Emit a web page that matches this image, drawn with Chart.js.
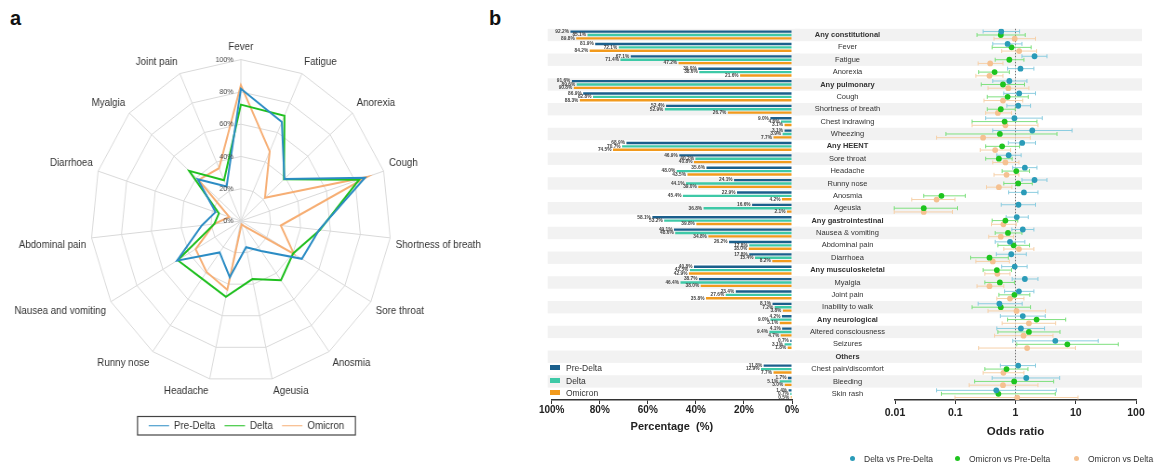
<!DOCTYPE html>
<html>
<head>
<meta charset="utf-8">
<script src="https://cdn.jsdelivr.net/npm/chart.js@4.4.1/dist/chart.umd.min.js"></script>
<style>
  body { margin: 0; width: 1156px; height: 464px; background: #fff; position: relative; overflow: hidden;
         font-family: Arial, "Liberation Sans", sans-serif; color: #333; }
  .panel { position: absolute; top: 7px; font-weight: bold; font-size: 20px; color: #111; }
  #radarWrap { position: absolute; left: 0; top: 0; width: 530px; height: 453px; transform: scaleX(0.93); transform-origin: 0 0; }
  #barWrap { position: absolute; left: 536px; top: 0; width: 264px; height: 464px; }
  #forestWrap { position: absolute; left: 795px; top: 0; width: 361px; height: 464px; }
  .barLeg { position: absolute; left: 550px; font-size: 8.5px; line-height: 12px; }
  .barLeg span { display: inline-block; width: 10px; height: 5px; margin-right: 6px; vertical-align: 1px; }
  .orLeg { position: absolute; top: 454px; font-size: 8.5px; line-height: 10px; white-space: nowrap; }
  .orLeg span { display: inline-block; width: 5px; height: 5px; border-radius: 50%; margin-right: 9px; vertical-align: 1px; }
</style>
</head>
<body>
<div class="panel" style="left:10px">a</div>
<div class="panel" style="left:489px">b</div>
<div id="radarWrap"><canvas id="radar"></canvas></div>
<div id="barWrap"><canvas id="bars"></canvas></div>
<div id="forestWrap"><canvas id="forest"></canvas></div>

<div class="barLeg" style="top:362px"><span style="background:#1b5f8c"></span>Pre-Delta</div>
<div class="barLeg" style="top:374.5px"><span style="background:#3ec9a7"></span>Delta</div>
<div class="barLeg" style="top:387px"><span style="background:#f29a1c"></span>Omicron</div>

<div class="orLeg" style="left:850px"><span style="background:#2a9bb8"></span>Delta vs Pre-Delta</div>
<div class="orLeg" style="left:955px"><span style="background:#1ec41e"></span>Omicron vs Pre-Delta</div>
<div class="orLeg" style="left:1074px"><span style="background:#f5c191"></span>Omicron vs Delta</div>

<script>
Chart.defaults.font.family = 'Arial, "Liberation Sans", sans-serif';
Chart.defaults.color = '#333';

// panel a: radar
const radarLabels = ['Fever', 'Fatigue', 'Anorexia', 'Cough', 'Shortness of breath', 'Sore throat', 'Anosmia',
  'Ageusia', 'Headache', 'Runny nose', 'Nausea and vomiting', 'Abdominal pain', 'Diarrhoea', 'Myalgia', 'Joint pain'];
const radarPre = [81.9, 67.1, 39.0, 86.9, 52.4, 46.9, 22.9, 16.6, 35.6, 24.1, 49.1, 26.2, 17.8, 38.7, 23.4];
const radarDelta = [72.1, 71.4, 38.6, 82.8, 52.9, 40.2, 45.4, 36.8, 48.0, 44.1, 48.6, 17.8, 15.4, 46.4, 27.6];
const radarOmicron = [84.2, 47.2, 21.6, 88.3, 26.7, 40.8, 4.2, 2.1, 43.5, 39.0, 34.8, 18.0, 8.2, 38.0, 35.8];
const radarTicks = [0, 20, 40, 60, 80, 100];

// panel b: rows shared by the bars and the odds ratios
const rows = ['Any constitutional', 'Fever', 'Fatigue', 'Anorexia', 'Any pulmonary', 'Cough', 'Shortness of breath',
  'Chest indrawing', 'Wheezing', 'Any HEENT', 'Sore throat', 'Headache', 'Runny nose', 'Anosmia', 'Ageusia',
  'Any gastrointestinal', 'Nausea & vomiting', 'Abdominal pain', 'Diarrhoea', 'Any musculoskeletal', 'Myalgia',
  'Joint pain', 'Inability to walk', 'Any neurological', 'Altered consciousness', 'Seizures', 'Others',
  'Chest pain/discomfort', 'Bleeding', 'Skin rash'];
const boldRows = ['Any constitutional', 'Any pulmonary', 'Any HEENT', 'Any gastrointestinal', 'Any musculoskeletal', 'Any neurological', 'Others'];

const preDelta = [92.2, 81.9, 67.1, 39.0, 91.6, 86.9, 52.4, 9.0, 3.1, 68.9, 46.9, 35.6, 24.1, 22.9, 16.6, 58.1, 49.1, 26.2, 17.8, 40.8, 38.7, 23.4, 8.1, 4.2, 4.1, 0.7, null, 11.8, 1.7, 1.4];
const delta = [85.1, 72.1, 71.4, 38.6, 89.6, 82.8, 52.9, 4.6, 3.9, 70.7, 40.2, 48.0, 44.1, 45.4, 36.8, 53.2, 48.6, 17.8, 15.4, 42.5, 46.4, 27.6, 7.2, 9.0, 9.4, 3.1, null, 12.9, 5.1, 0.7];
const omicron = [89.8, 84.2, 47.2, 21.6, 90.8, 88.3, 26.7, 3.1, 7.7, 74.5, 40.8, 43.5, 39.0, 4.2, 2.1, 39.8, 34.8, 18.0, 8.2, 42.9, 38.0, 35.8, 3.8, 5.1, 4.7, 1.8, null, 7.7, 3.0, 0.5];
const pctTicks = [0, 20, 40, 60, 80, 100];

// odds ratios with 95% CI
const dvpOR = [0.58, 0.74, 2.07, 1.21, 0.79, 1.15, 1.11, 0.96, 1.90, 1.29, 0.77, 1.43, 2.07, 1.38, 1.12, 1.05, 1.32, 0.81, 0.85, 0.97, 1.43, 1.14, 0.54, 1.32, 1.23, 4.58, null, 1.11, 1.51, 0.48];
const dvpLo = [0.29, 0.42, 1.28, 0.74, 0.42, 0.64, 0.72, 0.32, 0.42, 0.76, 0.49, 0.90, 1.28, 0.77, 0.58, 0.70, 0.87, 0.46, 0.48, 0.59, 0.88, 0.66, 0.24, 0.56, 0.49, 0.90, null, 0.56, 0.41, 0.049];
const dvpHi = [1.17, 1.28, 3.33, 2.02, 1.55, 2.15, 1.78, 2.78, 8.69, 2.15, 1.24, 2.27, 3.33, 2.36, 2.15, 1.63, 2.02, 1.43, 1.51, 1.56, 2.36, 2.02, 1.29, 3.12, 3.04, 23.6, null, 2.15, 5.41, 4.76];
const ovpOR = [0.57, 0.86, 0.79, 0.45, 0.62, 0.74, 0.57, 0.66, 0.55, 0.60, 0.53, 1.03, 1.11, 0.059, 0.030, 0.68, 0.75, 0.93, 0.37, 0.49, 0.55, 0.96, 0.57, 2.24, 1.67, 7.26, null, 0.71, 0.95, 0.52];
const ovpLo = [0.23, 0.41, 0.46, 0.245, 0.27, 0.34, 0.34, 0.19, 0.07, 0.32, 0.32, 0.60, 0.64, 0.030, 0.0097, 0.41, 0.46, 0.51, 0.18, 0.29, 0.31, 0.53, 0.19, 0.74, 0.51, 1.05, null, 0.31, 0.21, 0.059];
const ovpHi = [1.45, 1.82, 1.38, 0.79, 1.41, 1.63, 0.99, 2.27, 4.89, 1.17, 0.88, 1.71, 1.90, 0.147, 0.109, 1.09, 1.28, 1.71, 0.76, 0.86, 0.96, 1.73, 1.78, 6.81, 5.48, 50.8, null, 1.61, 4.30, 4.58];
const ovdOR = [0.97, 1.15, 0.38, 0.37, 0.76, 0.62, 0.51, 0.68, 0.29, 0.46, 0.68, 0.71, 0.53, 0.049, 0.030, 0.63, 0.57, 1.14, 0.42, 0.50, 0.37, 0.81, 1.04, 1.67, 1.36, 1.56, null, 0.63, 0.62, 1.07];
const ovdLo = [0.44, 0.59, 0.24, 0.22, 0.35, 0.30, 0.32, 0.19, 0.049, 0.26, 0.42, 0.44, 0.33, 0.019, 0.0097, 0.40, 0.36, 0.64, 0.22, 0.31, 0.23, 0.49, 0.35, 0.60, 0.45, 0.245, null, 0.29, 0.17, 0.099];
const ovdHi = [2.15, 2.24, 0.62, 0.62, 1.67, 1.32, 0.86, 2.36, 1.76, 0.83, 1.14, 1.14, 0.87, 0.099, 0.090, 1.03, 0.93, 2.02, 0.79, 0.81, 0.64, 1.38, 3.16, 4.64, 4.19, 9.87, null, 1.38, 2.36, 10.9];
const orTicks = [0.01, 0.1, 1, 10, 100];

// ---------- radar ----------
const radarTickLabels = {
  id: 'radarTickLabels',
  afterDraw(chart) {
    const r = chart.scales.r, ctx = chart.ctx;
    ctx.save();
    ctx.font = '7.5px Arial, "Liberation Sans", sans-serif';
    ctx.fillStyle = '#444';
    ctx.textAlign = 'right';
    ctx.textBaseline = 'middle';
    radarTicks.forEach(v => {
      ctx.fillText(v + '%', r.xCenter - 8, r.yCenter - r.getDistanceFromCenterForValue(v));
    });
    ctx.restore();
  }
};
const legendFrame = {
  id: 'legendFrame',
  afterDraw(chart) {
    const boxes = chart.legend.legendHitBoxes;
    if (!boxes.length) return;
    const l = Math.min(...boxes.map(b => b.left)), r = Math.max(...boxes.map(b => b.left + b.width));
    const t = Math.min(...boxes.map(b => b.top)), btm = Math.max(...boxes.map(b => b.top + b.height));
    const ctx = chart.ctx;
    ctx.save();
    ctx.strokeStyle = '#444';
    ctx.lineWidth = 1.2;
    ctx.strokeRect(l - 12, t - 4, r - l + 24, btm - t + 8);
    ctx.restore();
  }
};

new Chart(document.getElementById('radar'), {
  type: 'radar',
  data: {
    labels: radarLabels,
    datasets: [
      { label: 'Pre-Delta', data: radarPre, borderColor: '#2b8cc4' },
      { label: 'Delta', data: radarDelta, borderColor: '#1fbf1f' },
      { label: 'Omicron', data: radarOmicron, borderColor: '#f6ae74' }
    ]
  },
  options: {
    animation: false,
    responsive: true,
    maintainAspectRatio: false,
    elements: { line: { borderWidth: 2, fill: false, tension: 0 }, point: { radius: 0 } },
    layout: { padding: { top: 39, bottom: 12 } },
    plugins: {
      tooltip: { enabled: false },
      legend: {
        position: 'bottom',
        // empty title only adds room between the radar and the legend row
        title: { display: true, text: ' ', font: { size: 5 }, padding: { top: 2, bottom: 2.5 } },
        labels: { usePointStyle: true, pointStyle: 'line', pointStyleWidth: 22, font: { size: 10.5 }, color: '#333', padding: 10 }
      }
    },
    scales: {
      r: {
        min: 0, max: 100,
        ticks: { stepSize: 20, display: false },
        grid: { color: '#d9d9d9' },
        angleLines: { color: '#d9d9d9' },
        pointLabels: { font: { size: 10.5 }, color: '#333', padding: 6 }
      }
    }
  },
  plugins: [radarTickLabels, legendFrame]
});

// ---------- shared row shading ----------
function shadeRows(chart, x0, x1, yScale) {
  const ctx = chart.ctx, h = chart.chartArea.height / rows.length;
  ctx.save();
  ctx.fillStyle = '#f2f2f2';
  rows.forEach((r, i) => {
    if (i % 2) return;
    const yc = yScale.getPixelForValue(i);
    ctx.fillRect(x0, yc - h / 2, x1 - x0, h);
  });
  ctx.restore();
}

// ---------- bars ----------
const barBands = {
  id: 'barBands',
  beforeDraw(chart) { shadeRows(chart, chart.chartArea.left - 4, chart.width, chart.scales.y); }
};
const barLabels = {
  id: 'barLabels',
  afterDatasetsDraw(chart) {
    const ctx = chart.ctx;
    ctx.save();
    ctx.font = 'bold 4.8px Arial, "Liberation Sans", sans-serif';
    ctx.fillStyle = '#444';
    ctx.textAlign = 'right';
    ctx.textBaseline = 'middle';
    chart.data.datasets.forEach((ds, i) => {
      chart.getDatasetMeta(i).data.forEach((bar, j) => {
        const v = ds.data[j];
        if (v == null) return;
        ctx.fillText(v.toFixed(1) + '%', bar.x - 1.5, bar.y);
      });
    });
    ctx.restore();
  }
};

new Chart(document.getElementById('bars'), {
  type: 'bar',
  data: {
    labels: rows,
    datasets: [
      { label: 'Pre-Delta', data: preDelta, backgroundColor: '#1b5f8c' },
      { label: 'Delta', data: delta, backgroundColor: '#3ec9a7' },
      { label: 'Omicron', data: omicron, backgroundColor: '#f29a1c' }
    ]
  },
  options: {
    indexAxis: 'y',
    animation: false,
    responsive: true,
    maintainAspectRatio: false,
    datasets: { bar: { categoryPercentage: 0.82, barPercentage: 0.7 } },
    layout: { padding: { left: 15.7, right: 8, top: 28.8, bottom: 24 }, autoPadding: false },
    plugins: { legend: { display: false }, tooltip: { enabled: false } },
    scales: {
      y: { display: false },
      x: {
        reverse: true, min: 0, max: 100,
        afterBuildTicks: s => { s.ticks = pctTicks.map(v => ({ value: v })); },
        ticks: { callback: v => v + '%', font: { size: 10, weight: 'bold' }, color: '#222', padding: 0, maxRotation: 0 },
        grid: { drawOnChartArea: false, tickLength: 4, color: '#333' },
        border: { color: '#333', width: 1.5 },
        title: { display: true, text: 'Percentage  (%)', font: { size: 11, weight: 'bold' }, color: '#222', padding: { top: 0, bottom: 6 } },
        afterFit: s => { s.height = 40; }
      }
    }
  },
  plugins: [barBands, barLabels]
});

// ---------- odds ratios ----------
const orSeries = [
  { label: 'Delta vs Pre-Delta', or: dvpOR, lo: dvpLo, hi: dvpHi, color: '#2a9bb8', ci: '#8ccde0', off: -0.28 },
  { label: 'Omicron vs Pre-Delta', or: ovpOR, lo: ovpLo, hi: ovpHi, color: '#1ec41e', ci: '#7fe07f', off: 0 },
  { label: 'Omicron vs Delta', or: ovdOR, lo: ovdLo, hi: ovdHi, color: '#f5c191', ci: '#f6d1aa', off: 0.3 }
];

const forestBands = {
  id: 'forestBands',
  beforeDraw(chart) { shadeRows(chart, 0, chart.chartArea.right + 6, chart.scales.y); }
};
const errorBars = {
  id: 'errorBars',
  beforeDatasetsDraw(chart) {
    const ctx = chart.ctx, xs = chart.scales.x, a = chart.chartArea;
    ctx.save();
    // reference line at OR = 1
    const x1 = xs.getPixelForValue(1);
    ctx.strokeStyle = '#777';
    ctx.lineWidth = 1;
    ctx.setLineDash([1.5, 1.5]);
    ctx.beginPath();
    ctx.moveTo(x1, a.top);
    ctx.lineTo(x1, a.bottom);
    ctx.stroke();
    ctx.setLineDash([]);
    chart.data.datasets.forEach((ds, i) => {
      ctx.strokeStyle = ds.ciColor;
      ctx.lineWidth = 1;
      chart.getDatasetMeta(i).data.forEach((pt, k) => {
        const d = ds.data[k];
        const xl = xs.getPixelForValue(d.lo), xh = xs.getPixelForValue(d.hi), y = pt.y;
        ctx.beginPath();
        ctx.moveTo(xl, y); ctx.lineTo(xh, y);
        ctx.moveTo(xl, y - 2); ctx.lineTo(xl, y + 2);
        ctx.moveTo(xh, y - 2); ctx.lineTo(xh, y + 2);
        ctx.stroke();
      });
    });
    ctx.restore();
  }
};

new Chart(document.getElementById('forest'), {
  type: 'scatter',
  data: {
    datasets: orSeries.map(s => ({
      label: s.label,
      data: rows.map((r, i) => s.or[i] == null ? null : { x: s.or[i], y: i + s.off, lo: s.lo[i], hi: s.hi[i] }).filter(Boolean),
      backgroundColor: s.color,
      ciColor: s.ci,
      pointRadius: 2.9,
      borderWidth: 0
    }))
  },
  options: {
    animation: false,
    responsive: true,
    maintainAspectRatio: false,
    layout: { padding: { left: 0, right: 20, top: 28.8, bottom: 24 }, autoPadding: false },
    plugins: { legend: { display: false }, tooltip: { enabled: false } },
    scales: {
      x: {
        type: 'logarithmic', min: 0.01, max: 100,
        afterBuildTicks: s => { s.ticks = orTicks.map(v => ({ value: v })); },
        ticks: { callback: v => String(v), font: { size: 10.5, weight: 'bold' }, color: '#222', padding: 3, maxRotation: 0 },
        grid: { drawOnChartArea: false, tickLength: 4, color: '#333' },
        border: { color: '#333', width: 1.5 },
        title: { display: true, text: 'Odds ratio', font: { size: 11.5, weight: 'bold' }, color: '#222', padding: { top: 0, bottom: 1 } },
        afterFit: s => { s.height = 40; }
      },
      y: {
        type: 'linear', reverse: true, min: -0.5, max: 29.5,
        afterBuildTicks: s => { s.ticks = rows.map((r, i) => ({ value: i })); },
        ticks: {
          autoSkip: false,
          callback: v => rows[v],
          padding: 2,
          crossAlign: 'center',
          color: '#333',
          font: c => ({ size: 7.5, weight: c.tick && boldRows.includes(rows[c.tick.value]) ? 'bold' : 'normal' })
        },
        grid: { display: false },
        border: { display: false },
        afterFit: s => { s.width = 100; }
      }
    }
  },
  plugins: [forestBands, errorBars]
});
</script>
</body>
</html>
